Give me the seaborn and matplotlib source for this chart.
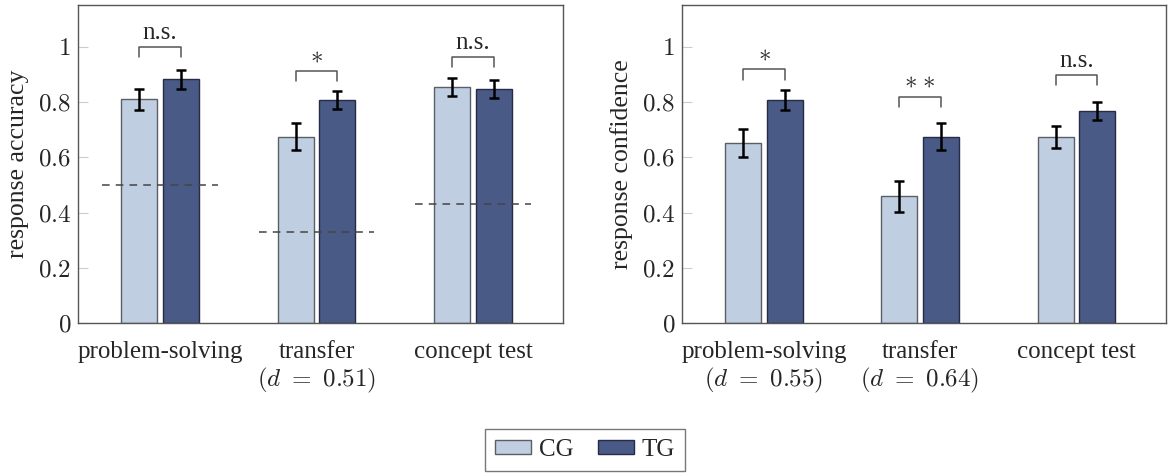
import numpy as np
import pandas as pd
import seaborn as sns
from matplotlib import pyplot as plt
from matplotlib.ticker import FixedLocator, FixedFormatter

categories = ["problem-solving", "transfer", "concept test"]
groups = ["CG", "TG"]

acc_cg = [0.81, 0.675, 0.855]
acc_tg = [0.883, 0.808, 0.847]
acc_cg_err = [0.037, 0.050, 0.034]
acc_tg_err = [0.034, 0.031, 0.033]

conf_cg = [0.653, 0.459, 0.675]
conf_tg = [0.807, 0.675, 0.768]
conf_cg_err = [0.051, 0.056, 0.040]
conf_tg_err = [0.036, 0.048, 0.034]

chance_level = [0.5, 0.33, 0.43]

acc_sig = ["n.s.", "$*$", "n.s."]
conf_sig = ["$*$", "$*$ $*$", "n.s."]
acc_bracket = [1.0, 0.912, 0.963]
conf_bracket = [0.919, 0.819, 0.898]

acc_ticklabels = ["problem-solving", "transfer\n$(d\\ =\\ 0.51)$", "concept test"]
conf_ticklabels = ["problem-solving\n$(d\\ =\\ 0.55)$", "transfer\n$(d\\ =\\ 0.64)$", "concept test"]

yticks = [0, 0.2, 0.4, 0.6, 0.8, 1.0]
ytick_labels = ["$0$", "$0.2$", "$0.4$", "$0.6$", "$0.8$", "$1$"]

PALETTE = {"CG": "#c0cee2", "TG": "#4a5a86"}
EDGES = {"CG": "#5a5f66", "TG": "#262c45"}
GREY = "#555555"
FS = 18

sns.set_style("white")
plt.rcParams['font.family'] = ['Liberation Serif', 'DejaVu Serif']
plt.rcParams['mathtext.fontset'] = 'cm'
plt.rcParams['font.size'] = FS


def make_frame(cg, tg):
    return pd.DataFrame({
        "category": categories * 2,
        "group": ["CG"] * 3 + ["TG"] * 3,
        "value": list(cg) + list(tg),
    })


def draw_panel(ax, cg, tg, cg_err, tg_err, sig, bracket, ticklabels, ylabel, chance=None):
    df = make_frame(cg, tg)
    sns.barplot(data=df, x="category", y="value", hue="group", order=categories,
                hue_order=groups, palette=PALETTE, saturation=1, errorbar=None,
                width=0.53, gap=0.13, ax=ax, legend=False, zorder=2)
    centers = {}
    for grp, cont, err in zip(groups, ax.containers, [cg_err, tg_err]):
        xs = [b.get_x() + b.get_width() / 2 for b in cont]
        hs = [b.get_height() for b in cont]
        for b in cont:
            b.set_edgecolor(EDGES[grp])
            b.set_linewidth(1.0)
        ax.errorbar(xs, hs, yerr=err, fmt="none", ecolor="black", elinewidth=1.8,
                    capsize=3.3, capthick=1.8, zorder=4)
        centers[grp] = xs

    if chance is not None:
        for i, c in enumerate(chance):
            ax.plot([i - 0.37, i + 0.37], [c, c], color="#444444", lw=1.1,
                    dashes=(5, 4), zorder=5)

    leg = 0.037
    for i, (s, yb) in enumerate(zip(sig, bracket)):
        x0, x1 = centers["CG"][i], centers["TG"][i]
        ax.plot([x0, x0, x1, x1], [yb - leg, yb, yb, yb - leg], color=GREY, lw=1.1, zorder=3)
        off = 0.012 if s == "n.s." else 0.015
        ax.text((x0 + x1) / 2, yb + off, s, ha="center", va="bottom", fontsize=FS)

    ax.set_xlim(-0.525, 2.575)
    ax.set_ylim(0, 1.152)
    ax.yaxis.set_major_locator(FixedLocator(yticks))
    ax.yaxis.set_major_formatter(FixedFormatter(ytick_labels))
    ax.tick_params(axis="y", direction="in", length=7, width=0.8, color="#cccccc",
                   pad=5, left=True)
    ax.tick_params(axis="x", length=0, pad=13)
    ax.set_xticks(range(len(categories)))
    ax.set_xticklabels(ticklabels, linespacing=1.15)
    ax.set_xlabel("")
    ax.set_ylabel(ylabel, labelpad=6, fontsize=18.5)
    for sp in ax.spines.values():
        sp.set_color(GREY)
        sp.set_linewidth(1.0)
        sp.set_visible(True)


fig = plt.figure(figsize=(11.7, 4.74), dpi=100)
ax1 = fig.add_axes([78 / 1170, 151 / 474, 485 / 1170, 318 / 474])
ax2 = fig.add_axes([682 / 1170, 151 / 474, 484 / 1170, 318 / 474])

draw_panel(ax1, acc_cg, acc_tg, acc_cg_err, acc_tg_err, acc_sig, acc_bracket,
           acc_ticklabels, "response accuracy", chance=chance_level)
draw_panel(ax2, conf_cg, conf_tg, conf_cg_err, conf_tg_err, conf_sig, conf_bracket,
           conf_ticklabels, "response confidence")

fig.legend([ax1.containers[0], ax1.containers[1]], groups, loc="center",
           bbox_to_anchor=(585 / 1170, 1 - 449.5 / 474), ncol=2, frameon=True,
           fancybox=False, edgecolor=GREY, handlelength=1.45, handleheight=0.5,
           handletextpad=0.3, columnspacing=1.0, borderpad=0.4, fontsize=FS)

fig.savefig("out.png", dpi=100)
